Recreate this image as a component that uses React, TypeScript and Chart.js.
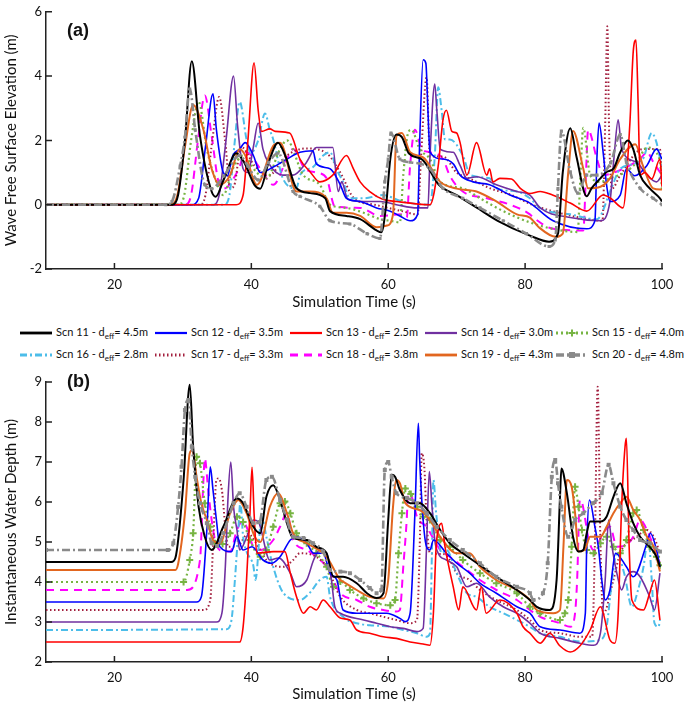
import React, { useEffect, useRef } from 'react';
import { Chart, registerables } from 'chart.js';
Chart.register(...registerables);

const FONT = 'Lato, "Open Sans", sans-serif';

// ---------- data: [time (s), value] ----------
const X_TICKS = [20, 40, 60, 80, 100];

// Panel (a): wave free surface elevation (m)
const A11: [number, number][] = [[10,0],[28.5,0],[29.3,0.3],[30.3,2.0],[31.3,4.46],[32.5,2.14],[34.2,0.41],[34.8,0.25],[36,0.8],[37.8,1.6],[39,1.3],[40.5,0.6],[41.3,0.5],[42.5,1.3],[43.9,1.93],[45,1.5],[46.6,0.51],[48.6,0.36],[50.8,0.2],[51.5,-0.2],[53.9,-0.35],[55.9,-0.45],[58.3,-0.8],[59,-0.86],[59.7,0],[60.3,1.42],[61.2,2.18],[62,2.1],[63,1.6],[65,1.4],[67.4,0.62],[70,0.3],[73,-0.1],[76,-0.5],[80.7,-0.96],[83.5,-1.15],[84.8,-0.9],[85.5,1.0],[86.6,2.38],[87.5,1.5],[89,0.26],[89.7,0.51],[91,0.82],[91.9,1.02],[92.9,1.12],[93.9,1.63],[95,2.0],[95.8,1.73],[96.8,0.92],[98.2,0.51],[99.7,0.2],[100,0.1]];
const A12: [number, number][] = [[10,0],[31.3,0],[32.3,0.2],[33.3,1.8],[34.4,3.45],[34.9,2.33],[35.9,1.0],[36.5,0.9],[37.3,1.53],[38.3,1.73],[39.1,1.93],[40.3,1.53],[41.3,1.0],[43.2,1.17],[45.2,1.42],[47.1,1.63],[49,1.68],[49.5,1.27],[51.5,1.12],[53,0.62],[53.9,0.2],[55.9,0.1],[58.3,-0.1],[60.3,-0.2],[61.7,-0.35],[63.2,-0.5],[64.3,-0.3],[64.6,2.0],[65.1,4.51],[65.5,4.4],[65.8,2.94],[66.1,1.63],[68,1.42],[69.5,1.27],[70.5,0.92],[72.4,0.71],[74.8,0.62],[77.8,0.3],[80.7,0.05],[84.1,-0.5],[89,-0.75],[90.2,-0.5],[90.5,1.5],[90.8,2.54],[91.4,1.63],[91.9,0.62],[92.4,0.1],[93.9,0.3],[94.8,1.12],[96,0.9],[97.8,1.22],[99.2,1.73],[100,1.42]];
const A13: [number, number][] = [[10,0],[37.8,0],[38.8,0.3],[39.5,2.0],[40.4,4.41],[41,2.94],[41.5,2.28],[42.7,2.36],[43.5,2.28],[45.6,2.23],[47.1,1.42],[48.6,1.02],[50,0.71],[51.9,0.92],[53.9,1.53],[54.9,1.12],[55.9,0.71],[57.3,0.41],[59.2,0.17],[61.2,0.1],[66.1,0.0],[67.3,1.2],[68,2.64],[68.5,2.94],[69.3,2.28],[70,2.23],[70.5,1.93],[71.5,0.92],[72.9,1.93],[74.4,0.92],[74.8,1.12],[75.3,0.71],[76.3,0.82],[78,0.8],[79.3,0.51],[80.7,0.35],[82.2,0.41],[84,0.3],[86.6,0.05],[89,-0.2],[91.4,0.3],[92.5,0.2],[94.3,-0.1],[95.3,2.5],[95.8,4.77],[96.2,5.12],[96.5,3.25],[96.8,0.92],[97.5,1.0],[98.5,0.8],[99.7,1.42],[100,0.56]];
const A14: [number, number][] = [[10,0],[34.5,0],[35.3,0.3],[36.3,2.0],[37.4,4.0],[38,2.44],[38.8,1.12],[39.5,1.0],[40.3,1.8],[41,2.54],[41.7,1.73],[42.5,1.3],[44.6,0.92],[46.1,0.92],[48,1.3],[49.5,1.78],[51.9,1.78],[52.7,0.41],[53.2,0.71],[54.1,0.17],[56.4,0.1],[58.8,0.1],[61.2,0.0],[64.2,-0.1],[65.8,-0.1],[66.1,1.5],[66.8,3.75],[67.1,2.94],[67.6,1.73],[69.5,1.63],[70.5,1.22],[71.5,0.82],[72.9,0.87],[75.8,0.62],[78.8,0.41],[80.7,0.3],[82.2,-0.1],[86.6,-0.4],[91,-0.5],[92.4,0.1],[93,1.5],[93.6,2.64],[94.1,1.73],[96.3,1.32],[97.8,0.92],[99.2,0.71],[100,0.92]];
const A15: [number, number][] = [[10,0],[29.3,0],[30.2,0.3],[31.2,2.0],[32.3,3.2],[33.5,1.73],[34.9,0.71],[35.9,0.3],[37.3,1.12],[38.8,1.53],[40.8,1.0],[42.2,0.82],[44.2,1.73],[45.2,2.0],[47.6,0.92],[50,0.62],[51.5,0.0],[53.9,-0.1],[56.4,-0.25],[58.8,-0.45],[60.3,-0.5],[61.7,-0.55],[62.2,0.92],[62.9,2.23],[63.4,2.33],[64.6,1.73],[66.1,1.42],[67.6,0.71],[70.9,0.51],[73.4,0.2],[76.8,-0.2],[80.7,-0.55],[84,-0.75],[87.7,-0.85],[88,0.5],[88.5,2.39],[89.5,0.92],[91,0.71],[92.4,0.82],[94.5,1.0],[96.3,1.32],[97.8,1.78],[99.7,1.38],[100,0.4]];
const A16: [number, number][] = [[10,0],[36,0],[36.8,0.3],[37.5,1.8],[38.3,3.2],[39.3,2.03],[39.9,1.6],[41,2.0],[42,2.84],[42.7,2.33],[43.2,2.03],[44.6,0.82],[46.6,0.51],[47.1,0.92],[49,1.17],[50.5,1.53],[51.5,1.63],[52.5,1.08],[53.4,0.71],[54.4,0.2],[56.4,0.2],[59.2,0.3],[62,0.1],[66.1,0.0],[66.8,1.5],[67.3,3.65],[67.8,2.94],[68.3,2.03],[69,2.03],[70.9,1.53],[72,0.92],[74.8,0.82],[75.8,0.51],[78.8,0.41],[80.7,0.2],[82.2,-0.1],[86.6,-0.3],[90.5,-0.45],[92.6,0.51],[93.9,1.12],[97.2,1.42],[98.5,2.23],[99.2,1.93],[100,1.12]];
const A17: [number, number][] = [[10,0],[32.5,0],[33.3,0.3],[34.3,2.0],[35.3,3.35],[36.2,1.93],[36.9,0.51],[37.5,0.6],[38.5,1.8],[40.5,1.2],[42.5,0.9],[45,1.5],[48,1.75],[51,1.6],[53,1.0],[55,0.2],[58,0.0],[60,-0.1],[62,-0.2],[64.3,-0.3],[64.8,1.5],[65.6,3.96],[66.1,1.5],[68,1.5],[70,1.0],[72,0.8],[75,0.5],[78,0.3],[81,0.0],[84,-0.2],[88,-0.4],[91.3,-0.5],[91.7,2.5],[92.0,5.55],[92.3,2.0],[92.7,0.5],[93.9,0.92],[97.2,1.73],[99.7,1.73],[100,0.82]];
const A18: [number, number][] = [[10,0],[30.3,0],[31.2,0.3],[32.2,2.0],[33.2,3.4],[34.2,2.14],[35.2,0.71],[36,0.5],[37.9,1.0],[39.3,1.63],[41.3,1.12],[43.2,0.62],[45.2,1.42],[46.1,1.73],[47.8,1.12],[49.5,1.0],[51,0.82],[52.2,-0.05],[55.9,-0.1],[58.8,-0.35],[62,-0.3],[62.7,-0.4],[63.2,1.22],[63.9,2.33],[64.9,1.73],[66.1,1.63],[68,1.42],[69,0.9],[70.9,0.41],[74.4,0.2],[77.8,0.0],[80.7,-0.3],[81.2,-0.4],[84.1,-0.75],[88.5,-0.8],[88.9,1.0],[89.2,2.33],[90.5,1.42],[91.4,0.92],[93,1.0],[95.3,1.22],[96.8,1.42],[97.8,1.63],[98.8,1.3],[100,0.92]];
const A19: [number, number][] = [[10,0],[28.3,0],[29.2,0.3],[30.3,1.8],[31.5,3.1],[33,2.33],[34.2,1.12],[35.4,0.62],[36.9,0.92],[38.3,1.73],[39.2,1.5],[40.8,0.62],[43.2,1.83],[44.2,1.93],[46.6,0.41],[48.6,0.41],[51,0.2],[51.9,-0.25],[53.9,-0.25],[55.9,-0.35],[58.3,-0.7],[59.8,-0.65],[60.7,-0.3],[61.2,2.14],[62,2.23],[63.2,1.63],[65.1,1.47],[67.6,0.71],[70,0.5],[72.9,0.41],[75.8,0.1],[78.8,-0.3],[80.7,-0.4],[82,-0.7],[84.5,-1.0],[85.5,-0.9],[86.3,1.0],[87,2.29],[88.5,1.12],[89.2,0.51],[91,0.56],[92.4,0.82],[93.9,1.42],[96.1,1.88],[97.2,1.22],[98.7,0.51],[100,0.47]];
const A20: [number, number][] = [[10,0],[27.5,0],[28.4,0.1],[29.6,1.2],[30.3,2.1],[31,3.6],[31.8,2.33],[33.2,0.62],[34.2,0.5],[36,0.9],[38.3,1.53],[39.5,1.2],[41,0.77],[42.5,1.3],[43.9,1.6],[46.1,0.41],[47.1,0.26],[50,-0.05],[51.5,-0.5],[54.4,-0.6],[56.9,-0.9],[58.8,-1.05],[59.5,0.71],[60,1.42],[60.4,2.23],[61.7,1.42],[63.2,1.32],[66.1,1.12],[68,0.51],[70.9,0.2],[73.4,-0.1],[76.8,-0.5],[80.2,-0.9],[83.5,-1.3],[84.4,-1.1],[84.8,0.5],[85.3,2.29],[86.6,1.02],[87.7,0.36],[89,0.92],[90.5,0.92],[92.5,1.3],[93.9,2.18],[94.8,1.32],[96.8,0.51],[98.7,0.2],[100,0]];

// Panel (b): instantaneous water depth (m)
const B11: [number, number][] = [[10,4.5],[28.3,4.5],[28.9,4.6],[30.1,6.55],[31,8.93],[31.5,7.38],[32.3,5.88],[33.2,5.13],[34.2,4.8],[35.9,5.38],[37.9,6.09],[38.8,5.97],[40.3,5.38],[41.3,5.22],[42.2,6.13],[43.2,6.42],[44.2,6.05],[45.2,5.47],[46.1,5.1],[48.1,5.05],[49.5,4.88],[51,4.72],[52,4.13],[53.4,4.13],[55.4,3.97],[56.9,3.72],[58.3,3.6],[59.3,3.72],[60,5.55],[60.5,6.68],[61,6.63],[61.7,6.3],[63.2,5.97],[64.6,5.97],[66.1,5.72],[67.6,5.3],[69,4.97],[70.9,4.72],[73.4,4.42],[75.8,4.13],[78.8,3.8],[80.7,3.55],[81.7,3.38],[83.6,3.3],[84.6,4.05],[85.1,6.13],[85.3,6.84],[86.1,6.22],[87,5.13],[87.8,4.76],[88.5,4.8],[89,5.22],[89.5,5.51],[91,5.51],[91.9,5.63],[92.9,6.13],[93.9,6.47],[94.8,5.97],[95.8,5.47],[96.8,5.13],[98.2,4.88],[99.2,4.63],[99.7,4.38]];
const B12: [number, number][] = [[10,3.5],[32,3.5],[32.7,3.63],[33.5,5.3],[34,6.88],[34.4,6.3],[34.9,5.55],[35.4,4.88],[37.1,4.76],[37.9,5.13],[38.8,4.8],[40.1,4.88],[41.7,4.55],[43,4.47],[44.2,4.63],[45.7,5.05],[46.6,5.13],[48.1,4.97],[49.1,4.72],[50.5,4.72],[51.5,4.22],[52.5,4.05],[53.4,3.3],[55.4,3.22],[57.3,3.22],[59.8,3.22],[61.7,3.09],[62.5,3.01],[63.2,3.22],[63.9,5.72],[64.4,7.97],[64.6,7.05],[65.1,5.55],[65.6,4.88],[66.1,4.8],[66.6,5.05],[68.5,4.72],[70,4.47],[71.9,4.22],[73.4,3.97],[75.8,3.72],[78.8,3.38],[80.7,3.22],[82.2,2.88],[85.1,2.8],[88,2.72],[88.8,3.22],[89,4.88],[89.4,6.05],[90.2,5.38],[90.7,4.88],[91.2,4.05],[91.7,3.55],[92.4,3.8],[93.2,4.72],[94.8,4.38],[95.8,4.13],[97.8,4.97],[98.3,5.22],[99.2,4.8],[99.7,4.38]];
const B13: [number, number][] = [[10,2.5],[38.3,2.5],[38.8,2.88],[39.3,4.05],[39.8,5.72],[40.1,6.87],[40.4,5.72],[40.8,4.72],[43.2,4.76],[44.9,4.76],[45.7,4.22],[46.6,3.63],[47.6,3.22],[48.6,3.38],[49.5,3.3],[50.5,3.55],[51.5,3.38],[53,3.1],[54.4,3.05],[55.4,2.8],[57.3,2.72],[59.3,2.63],[61.2,2.59],[63.2,2.5],[65.1,2.45],[66.1,2.42],[66.6,3.22],[67,4.88],[67.3,5.3],[67.8,5.47],[68.3,4.88],[69.5,3.88],[70.3,3.3],[70.9,3.88],[72.9,3.3],[73.6,3.88],[74.3,3.22],[76.3,3.55],[78.8,3.22],[79.7,2.88],[80.7,2.72],[82.2,2.47],[83.6,2.72],[85.1,2.4],[86.6,2.25],[88,2.4],[89.5,2.8],[91,3.38],[92.4,2.55],[93.1,2.47],[93.6,3.22],[94.1,5.88],[94.6,7.38],[94.8,7.59],[95.2,4.88],[95.6,3.55],[97.3,3.3],[98.2,3.72],[98.9,4.05],[99.7,3.05]];
const B14: [number, number][] = [[10,3.0],[34.9,3.0],[35.7,3.22],[36.2,4.38],[36.6,6.13],[37,7.0],[37.4,5.88],[37.9,5.3],[38.3,4.8],[39.5,5.2],[40.3,5.55],[41,5.51],[42.7,4.55],[44,4.6],[45.7,4.22],[46.6,3.88],[48.1,4.05],[49.1,4.55],[50,4.8],[51,4.72],[51.7,4.05],[52.2,3.38],[53,3.22],[56.4,3.05],[58.3,2.97],[60.3,2.88],[62.2,2.84],[64.2,2.76],[65.1,2.84],[65.6,4.88],[66,6.76],[66.4,5.88],[66.8,5.05],[67.3,4.72],[68.5,4.55],[70,4.38],[71.5,3.88],[72.9,3.97],[74.8,3.63],[76.8,3.38],[78.8,3.22],[80.7,2.97],[82.2,2.72],[85.1,2.59],[88,2.47],[90,2.42],[91,2.72],[91.7,4.05],[92.2,5.55],[92.7,4.88],[93.4,4.22],[94.1,3.8],[94.8,4.13],[95.8,4.26],[96.8,4.13],[98.2,3.63],[98.9,3.3],[99.7,4.22]];
const B15: [number, number][] = [[10,4.0],[30.1,4.0],[31,4.55],[31.5,5.22],[32,7.13],[32.5,6.97],[33.2,5.97],[34,5.38],[34.7,4.97],[35.8,4.95],[36.9,5.22],[37.9,5.63],[38.8,5.5],[39.8,5.05],[41.3,4.63],[42.2,4.8],[43.2,5.38],[44.2,5.97],[44.9,6.01],[45.7,5.72],[46.6,5.22],[48.1,4.97],[49.5,4.72],[51,4.38],[52,3.88],[53,4.01],[54.4,3.8],[56.4,3.59],[58.3,3.47],[60.3,3.42],[61,3.55],[61.5,4.72],[62,5.72],[62.5,6.34],[63.3,6.2],[64.2,5.88],[65.1,5.63],[66.1,5.55],[67.6,5.05],[69,4.88],[70.9,4.55],[73.4,4.22],[75.8,3.97],[78.8,3.72],[80.7,3.38],[82.2,3.22],[85.1,3.05],[85.8,3.22],[86.3,3.55],[86.8,4.88],[87.3,6.38],[87.8,5.88],[88.3,5.3],[89,4.8],[90,4.72],[91,4.97],[91.9,5.13],[92.9,4.88],[93.9,4.72],[94.8,5.05],[95.8,5.72],[96.3,5.8],[97.3,5.3],[98.2,4.88],[99.2,4.63],[99.7,4.42]];
const B16: [number, number][] = [[10,2.8],[36.4,2.82],[37.1,3.05],[37.6,4.05],[38.1,5.3],[38.4,6.0],[38.8,5.13],[39.3,4.76],[40.3,4.4],[40.6,4.05],[41.5,5.63],[42.2,5.13],[43,4.5],[44.7,3.72],[47.1,3.55],[48.5,3.72],[50,4.05],[51,4.13],[51.5,3.63],[53.4,3.13],[55.4,2.97],[57.3,2.92],[60.3,2.88],[62.2,2.8],[64.2,2.72],[65.6,2.63],[66.1,2.72],[66.4,4.88],[66.6,6.55],[67,5.72],[67.8,4.72],[68.5,4.8],[70,4.22],[71.5,3.72],[72.9,3.63],[74.8,3.38],[76.8,3.22],[78.8,3.05],[80.7,2.88],[82.2,2.72],[85.1,2.63],[88,2.51],[91,2.55],[91.9,2.88],[92.7,4.05],[93.4,4.72],[94.5,4.2],[95.6,3.38],[96.5,3.8],[97.3,4.38],[98,5.13],[98.5,4.05],[98.9,2.97],[99.5,2.88],[99.7,3.05]];
const B17: [number, number][] = [[10,3.3],[33,3.3],[34,3.55],[34.4,4.88],[34.9,6.55],[35.2,6.59],[35.7,6.3],[36.2,5.38],[36.6,4.88],[38,4.9],[39.5,5.2],[41.3,4.8],[42.2,4.55],[43.2,4.42],[44.7,4.38],[46.1,4.55],[47.1,4.72],[49.5,4.63],[51,4.38],[53,3.63],[55.4,3.3],[57.3,3.22],[59.3,3.13],[61.2,3.05],[63.2,2.97],[64.2,3.05],[64.6,4.88],[64.9,7.22],[65.3,6.8],[65.6,5.55],[66.1,4.72],[68,4.7],[69,4.55],[70,4.22],[71.9,4.05],[73.4,3.8],[75.8,3.55],[78.8,3.3],[80.7,3.05],[82.2,2.8],[85.1,2.72],[88,2.63],[89.8,2.63],[90.2,5.0],[90.6,8.88],[91,5.0],[91.4,3.2],[92.9,4.05],[93.9,4.72],[96.3,5.13],[97.8,5.3],[98.8,5.13],[99.7,4.72]];
const B18: [number, number][] = [[10,3.8],[30.6,3.8],[32.5,4.55],[33,6.55],[33.2,7.09],[33.7,6.3],[34.2,5.55],[34.7,5.05],[35.4,4.8],[36.9,4.76],[37.9,5.3],[38.6,5.51],[39.3,5.38],[40.3,4.88],[41.3,4.8],[43.2,5.05],[44.2,5.38],[45.2,5.72],[46.1,5.05],[48.1,4.8],[49.5,4.63],[51,4.38],[53,3.72],[55.4,3.55],[57.3,3.38],[59.3,3.3],[61.2,3.26],[61.7,3.3],[62.2,4.38],[62.7,5.55],[62.9,6.22],[63.5,6.1],[64.2,5.63],[65.6,5.38],[67.6,4.8],[69,4.63],[70.9,4.38],[73.4,4.05],[75.8,3.8],[78.8,3.55],[80.7,3.3],[82.2,3.13],[85.1,2.97],[86.6,2.88],[87.3,3.22],[87.6,4.05],[88,6.05],[88.3,6.0],[88.8,5.55],[89.2,5.13],[90,4.8],[91.4,5.22],[92.4,5.38],[93.4,4.88],[94.5,4.9],[95.8,5.13],[96.8,5.55],[97.8,5.3],[98.8,4.88],[99.7,4.47]];
const B19: [number, number][] = [[10,4.3],[28.9,4.3],[29.3,4.45],[30.3,5.72],[31,7.22],[31.4,7.3],[32,6.63],[32.7,5.97],[33.5,5.55],[34.4,5.05],[35.4,4.97],[36.9,5.72],[38.1,6.05],[39.3,5.72],[40.5,5.13],[41.3,5.0],[42.7,5.88],[43.9,6.22],[45.2,5.72],[46.1,5.22],[48.1,4.97],[51,4.63],[53,4.05],[53.4,4.01],[55.4,3.8],[57.3,3.63],[59.3,3.59],[60,4.05],[60.7,5.88],[61.2,6.55],[61.7,6.47],[62.5,5.97],[64.6,5.8],[66.1,5.55],[67.6,5.13],[70,4.72],[71.9,4.72],[73.4,4.38],[75.8,4.05],[78.8,3.8],[80.7,3.55],[81.7,3.3],[84.1,3.22],[85.1,3.3],[85.6,4.88],[86.1,6.55],[86.8,6.38],[87.3,5.72],[87.8,4.76],[88.7,4.8],[89.5,5.13],[91,5.13],[91.9,5.38],[92.9,5.72],[93.9,5.97],[94.8,6.13],[95.8,5.8],[96.8,5.55],[97.8,5.13],[98.8,4.88],[99.7,4.26]];
const B20: [number, number][] = [[10,4.8],[27.8,4.8],[28.6,4.97],[29.3,5.88],[29.8,6.88],[30.3,8.3],[30.8,8.55],[31.3,7.38],[31.8,6.63],[32.5,5.97],[33.5,5.47],[34.2,4.97],[35,4.9],[35.9,5.22],[37.4,5.97],[38.3,6.22],[39.3,5.88],[40.3,5.47],[41.2,5.5],[42.2,6.55],[43,6.63],[44.2,6.05],[45.2,5.55],[46.1,5.13],[47.6,5.1],[49,4.97],[50.5,4.76],[51.5,4.3],[53,4.26],[54.4,4.22],[55.9,4.05],[57.3,3.85],[58.3,3.72],[59,3.8],[59.5,6.8],[60,7.0],[60.5,6.63],[61.2,6.22],[62.7,6.1],[64.2,5.97],[65.6,5.72],[67.1,5.38],[69,5.05],[70.9,4.8],[73.4,4.47],[75.8,4.13],[78.8,3.88],[80.7,3.72],[81.2,3.55],[82.6,3.72],[83.3,4.47],[83.9,6.63],[84.4,7.05],[84.8,6.47],[85.3,5.88],[86.3,5.13],[87.3,5.55],[88.5,5.72],[89.9,5.97],[91.2,6.22],[92.2,6.93],[92.9,6.47],[93.9,5.88],[94.8,5.55],[95.8,5.3],[96.8,5.05],[98.2,4.97],[99.7,4.76]];

const SCENARIOS = ['Scn 11', 'Scn 12', 'Scn 13', 'Scn 14', 'Scn 15', 'Scn 16', 'Scn 17', 'Scn 18', 'Scn 19', 'Scn 20'];
const D_EFF = ['4.5', '3.5', '2.5', '3.0', '4.0', '2.8', '3.3', '3.8', '4.3', '4.8'];
const SERIES_A = [A11, A12, A13, A14, A15, A16, A17, A18, A19, A20];
const SERIES_B = [B11, B12, B13, B14, B15, B16, B17, B18, B19, B20];

// ---------- styles ----------
type Sty = { color: string; width: number; dash: number[]; point?: 'cross' | 'rect'; order: number };
const STYLES: Sty[] = [
  { color: '#000000', width: 2, dash: [], order: 1 },
  { color: '#0000ff', width: 1.6, dash: [], order: 4 },
  { color: '#ff0000', width: 1.6, dash: [], order: 2 },
  { color: '#7030a0', width: 1.6, dash: [], order: 5 },
  { color: '#77b443', width: 2.2, dash: [2, 3], point: 'cross', order: 6 },
  { color: '#4cbde9', width: 2, dash: [7, 3, 2, 3], order: 7 },
  { color: '#a3203f', width: 2, dash: [1.5, 2.5], order: 8 },
  { color: '#ff00ff', width: 2, dash: [8, 6], order: 9 },
  { color: '#e2661f', width: 2, dash: [], order: 3 },
  { color: '#8a8a8a', width: 2.6, dash: [8, 3, 2, 3], point: 'rect', order: 0 },
];

const inwardTicks = {
  id: 'inwardTicks',
  afterDraw(chart: any) {
    const { ctx, chartArea: ca, scales } = chart;
    ctx.save();
    ctx.strokeStyle = '#222';
    ctx.lineWidth = 1.5;
    ctx.setLineDash([]);
    ctx.beginPath();
    for (const t of scales.x.ticks) {
      const px = scales.x.getPixelForValue(t.value);
      ctx.moveTo(px, ca.bottom);
      ctx.lineTo(px, ca.bottom - 6);
    }
    for (const t of scales.y.ticks) {
      const py = scales.y.getPixelForValue(t.value);
      ctx.moveTo(ca.left, py);
      ctx.lineTo(ca.left + 6, py);
    }
    ctx.stroke();
    ctx.restore();
  },
};

type PanelProps = {
  series: [number, number][][];
  yMin: number; yMax: number; step: number; yTitle: string;
  top: number; height: number; padTop: number; bottomGap: number; panel: 'a' | 'b';
};

function Panel(p: PanelProps) {
  const ref = useRef<HTMLCanvasElement>(null);
  useEffect(() => {
    const datasets = p.series.map((pts, i) => {
      const st = STYLES[i];
      let radius = 0;
      if (st.point === 'rect') radius = p.panel === 'a' ? 2.2 : 2.8;
      if (st.point === 'cross') radius = p.panel === 'a' ? 0 : 3.5;
      return {
        label: SCENARIOS[i],
        data: pts.map(([x, y]) => ({ x, y })),
        borderColor: st.color,
        backgroundColor: st.color,
        borderWidth: st.width,
        borderDash: st.dash,
        pointRadius: radius,
        pointStyle: st.point || 'circle',
        pointBorderWidth: st.point === 'cross' ? 2 : 0,
        pointBorderColor: st.color,
        pointBackgroundColor: st.color,
        cubicInterpolationMode: 'monotone',
        fill: false,
        order: st.order,
      };
    });
    const chart = new Chart(ref.current as HTMLCanvasElement, {
      type: 'line',
      data: { datasets } as any,
      options: {
        animation: false,
        responsive: false,
        maintainAspectRatio: false,
        devicePixelRatio: 1,
        layout: { padding: { top: p.padTop, right: 23, left: 0, bottom: 0 } },
        plugins: { legend: { display: false }, tooltip: { enabled: false } },
        scales: {
          x: {
            type: 'linear', min: 10, max: 100,
            afterBuildTicks: (s: any) => { s.ticks = X_TICKS.map((v) => ({ value: v })); },
            afterFit: (s: any) => { s.height = p.bottomGap; },
            grid: { display: false, drawTicks: false },
            border: { display: true, color: '#222', width: 1.5 },
            ticks: { font: { family: FONT, size: 13 }, color: '#111', padding: 8, maxRotation: 0, autoSkip: false },
            title: { display: true, text: 'Simulation Time (s)', font: { family: FONT, size: 15 }, color: '#111', padding: 4 },
          },
          y: {
            type: 'linear', min: p.yMin, max: p.yMax,
            ticks: { stepSize: p.step, font: { family: FONT, size: 13 }, color: '#111', padding: 4 },
            afterFit: (s: any) => { s.width = 46; },
            grid: { display: false, drawTicks: false },
            border: { display: true, color: '#222', width: 1.5 },
            title: { display: true, text: p.yTitle, font: { family: FONT, size: 15 }, color: '#111', padding: 2 },
          },
        },
      } as any,
      plugins: [inwardTicks],
    });
    return () => chart.destroy();
  }, []);
  return (
    <canvas
      ref={ref}
      width={685}
      height={p.height}
      style={{ position: 'absolute', left: 0, top: p.top, width: 685, height: p.height }}
    />
  );
}

function LegendSample({ st }: { st: Sty }) {
  return (
    <svg width={32} height={10} style={{ display: 'block' }}>
      <line x1={0} y1={5} x2={32} y2={5} stroke={st.color} strokeWidth={st.width * 1.4}
        strokeDasharray={st.dash.length ? st.dash.join(',') : undefined} />
      {st.point === 'cross' && <path d="M12.5,5 H19.5 M16,1.5 V8.5" stroke={st.color} strokeWidth={2} />}
      {st.point === 'rect' && <rect x={13} y={2} width={6} height={6} fill={st.color} />}
    </svg>
  );
}

function Legend() {
  const cols = [20, 155, 290, 425, 556];
  const rows = [333, 355];
  return (
    <>
      {SCENARIOS.map((name, i) => {
        const r = Math.floor(i / 5);
        const c = i % 5;
        return (
          <div key={name} style={{
            position: 'absolute', left: cols[c], top: rows[r] - 8, height: 16,
            display: 'flex', alignItems: 'center', whiteSpace: 'nowrap',
            fontFamily: FONT, fontSize: 11, color: '#111',
          }}>
            <LegendSample st={STYLES[i]} />
            <span style={{ marginLeft: 4 }}>
              {name} - d<sub style={{ fontSize: 8, verticalAlign: -3 }}>eff</sub>= {D_EFF[i]}m
            </span>
          </div>
        );
      })}
    </>
  );
}

export default function App() {
  const label = {
    position: 'absolute' as const, left: 67, fontFamily: '"Liberation Sans", Arial, sans-serif',
    fontWeight: 700, fontSize: 18, color: '#111', lineHeight: '20px',
  };
  return (
    <div style={{ position: 'absolute', left: 0, top: 0, width: 685, height: 707, background: '#fff', overflow: 'hidden' }}>
      <Panel series={SERIES_A} yMin={-2} yMax={6} step={2} yTitle="Wave Free Surface Elevation (m)"
        top={0} height={315} padTop={6} bottomGap={46} panel="a" />
      <Legend />
      <Panel series={SERIES_B} yMin={2} yMax={9} step={1} yTitle="Instantaneous Water Depth (m)"
        top={365} height={342} padTop={17} bottomGap={45} panel="b" />
      <div style={{ ...label, top: 20 }}>(a)</div>
      <div style={{ ...label, top: 371 }}>(b)</div>
    </div>
  );
}
